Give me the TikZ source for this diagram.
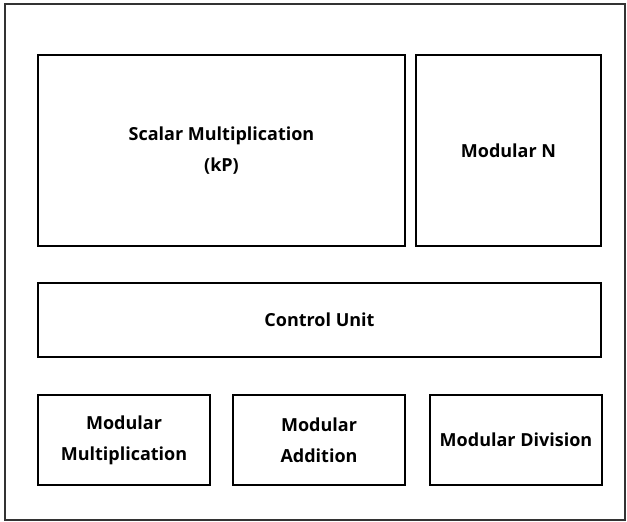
\documentclass[tikz,border=0pt]{standalone}
\usepackage{fontspec}
\setmainfont{Open Sans}
\begin{document}
\begin{tikzpicture}[x=1pt,y=-1pt,
  blk/.style={draw, line width=1.6pt, align=center, inner sep=0pt,
    font=\bfseries\fontsize{18}{31}\selectfont}]
\useasboundingbox (0,0) rectangle (627,522);
\draw[line width=1.4pt, black!80] (5,4) rectangle (625,520);
\node[blk, minimum width=367, minimum height=191] (scalar) at (221.5,150.5) {Scalar Multiplication\\(kP)};
\node[blk, minimum width=185, minimum height=191] (modn) at (508.5,150.5) {Modular N};
\node[blk, minimum width=563, minimum height=74] (ctrl) at (319.5,320) {Control Unit};
\node[blk, minimum width=172, minimum height=90] (mmul) at (124,440) {Modular\\Multiplication};
\node[blk, minimum width=172, minimum height=90] (madd) at (319,440) {Modular\\Addition};
\node[blk, minimum width=172, minimum height=90] (mdiv) at (516,440) {Modular Division};
\end{tikzpicture}
\end{document}
